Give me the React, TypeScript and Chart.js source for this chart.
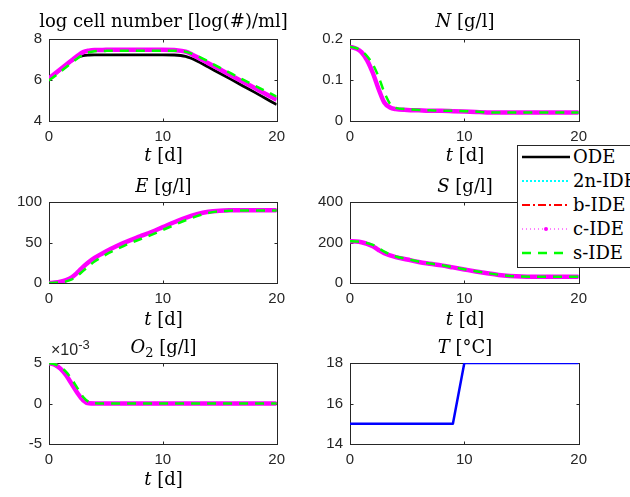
import React, { useEffect, useRef } from 'react';
import { Chart, registerables } from 'chart.js';
Chart.register(...registerables);

// ---------- data ----------
const DAYS = [0, 0.5, 1, 1.5, 2, 2.5, 3, 3.5, 4, 5, 6, 7, 8, 9, 10, 11, 12, 13, 14, 15, 16, 17, 18, 19, 20];
const SERIES_NAMES = ['ODE', '2n-IDE', 'b-IDE', 'c-IDE', 's-IDE'];

const CELL_ODE = [6.05, 6.27, 6.5, 6.72, 6.93, 7.1, 7.19, 7.22, 7.23, 7.23, 7.23, 7.23, 7.23, 7.23, 7.23, 7.22, 7.15, 6.93, 6.63, 6.33, 6.03, 5.72, 5.42, 5.11, 4.8];
const CELL_C = [6.08, 6.3, 6.52, 6.74, 6.96, 7.18, 7.36, 7.43, 7.46, 7.47, 7.48, 7.48, 7.48, 7.48, 7.48, 7.46, 7.38, 7.12, 6.82, 6.52, 6.22, 5.92, 5.63, 5.33, 5.04];
const CELL_2N = CELL_C;
const CELL_B = CELL_C;
const CELL_S = [5.98, 6.18, 6.4, 6.62, 6.84, 7.05, 7.24, 7.35, 7.4, 7.42, 7.43, 7.43, 7.43, 7.43, 7.43, 7.43, 7.38, 7.18, 6.9, 6.6, 6.32, 6.03, 5.75, 5.47, 5.19];

const N_C = [0.181, 0.177, 0.168, 0.148, 0.117, 0.078, 0.045, 0.033, 0.029, 0.027, 0.026, 0.025, 0.025, 0.024, 0.023, 0.022, 0.021, 0.0205, 0.0205, 0.0205, 0.0205, 0.0205, 0.0205, 0.0205, 0.0205];
const N_ODE = N_C;
const N_2N = N_C;
const N_B = N_C;
const N_S = [0.181, 0.178, 0.171, 0.158, 0.138, 0.108, 0.07, 0.042, 0.032, 0.029, 0.027, 0.026, 0.025, 0.025, 0.024, 0.023, 0.021, 0.0205, 0.0205, 0.0205, 0.0205, 0.0205, 0.0205, 0.0205, 0.0205];

const E_C = [0, 0.5, 1.5, 3.5, 7, 13, 20, 26, 31, 39, 46, 52, 57.5, 63, 69, 75, 80.5, 85, 88, 89.3, 89.7, 89.8, 89.8, 89.8, 89.8];
const E_ODE = E_C;
const E_2N = E_C;
const E_B = E_C;
const E_S = [0, 0.2, 0.8, 2, 4.5, 9, 15, 21, 26.5, 35, 42, 48.5, 54, 59.5, 65.5, 71.5, 77.5, 82.5, 86.5, 88.5, 89.3, 89.6, 89.6, 89.6, 89.6];

const S_C = [206, 205, 201, 193, 181, 163, 147, 136, 128, 116, 104, 95, 87, 77, 67, 57, 48, 40, 35, 32, 31, 31, 31, 31, 31];
const S_ODE = S_C;
const S_2N = S_C;
const S_B = S_C;
const S_S = [206, 205, 203, 197, 188, 172, 155, 141, 131, 118, 106, 96, 88, 78, 68, 58, 49, 41, 35, 32, 31, 31, 31, 31, 31];

const O2_C = [0.00497, 0.0048, 0.0043, 0.0035, 0.0024, 0.0013, 0.0004, 0.00002, 0, 0, 0, 0, 0, 0, 0, 0, 0, 0, 0, 0, 0, 0, 0, 0, 0];
const O2_ODE = O2_C;
const O2_2N = O2_C;
const O2_B = O2_C;
const O2_S = [0.00497, 0.00485, 0.0045, 0.0039, 0.003, 0.0019, 0.0008, 0.0002, 0.00003, 0, 0, 0, 0, 0, 0, 0, 0, 0, 0, 0, 0, 0, 0, 0, 0];

const TEMP_DAYS = [0, 9, 10, 20];
const TEMP = [15, 15, 18, 18];

const X_TICKS = [0, 10, 20];

// ---------- styles ----------
const STYLE: Record<string, { color: string; width: number; dash: number[]; order: number }> = {
  'ODE': { color: '#000000', width: 2.8, dash: [], order: 5 },
  '2n-IDE': { color: '#00FFFF', width: 2, dash: [2, 2], order: 4 },
  'b-IDE': { color: '#FF0000', width: 2, dash: [8, 3, 2, 3], order: 3 },
  'c-IDE': { color: '#FF00FF', width: 4.5, dash: [], order: 2 },
  's-IDE': { color: '#00FF00', width: 2.5, dash: [9, 7], order: 1 },
};

const AXIS_COLOR = '#262626';
const SANS = '"Liberation Sans", Arial, sans-serif';
const SERIF = '"DejaVu Serif", serif';

const PAD_L = 45, PAD_T = 12, PAD_R = 14, PAD_B = 30;

type PanelDef = {
  left: number; top: number; w: number; h: number;
  xs: number[];
  series: { name: string; values: number[]; color?: string; width?: number }[];
  yMin: number; yMax: number; yStep: number;
  fmt?: (v: number) => string;
};

const PANELS: PanelDef[] = [
  { left: 49, top: 35, w: 229, h: 86, xs: DAYS, yMin: 4, yMax: 8, yStep: 2,
    series: [{ name: 'ODE', values: CELL_ODE }, { name: '2n-IDE', values: CELL_2N }, { name: 'b-IDE', values: CELL_B }, { name: 'c-IDE', values: CELL_C }, { name: 's-IDE', values: CELL_S }] },
  { left: 350, top: 35, w: 230, h: 86, xs: DAYS, yMin: 0, yMax: 0.2, yStep: 0.1,
    fmt: (v) => (Math.round(v * 10) / 10).toString(),
    series: [{ name: 'ODE', values: N_ODE }, { name: '2n-IDE', values: N_2N }, { name: 'b-IDE', values: N_B }, { name: 'c-IDE', values: N_C }, { name: 's-IDE', values: N_S }] },
  { left: 49, top: 198, w: 229, h: 85, xs: DAYS, yMin: 0, yMax: 100, yStep: 50,
    series: [{ name: 'ODE', values: E_ODE }, { name: '2n-IDE', values: E_2N }, { name: 'b-IDE', values: E_B }, { name: 'c-IDE', values: E_C }, { name: 's-IDE', values: E_S }] },
  { left: 350, top: 198, w: 230, h: 85, xs: DAYS, yMin: 0, yMax: 400, yStep: 200,
    series: [{ name: 'ODE', values: S_ODE }, { name: '2n-IDE', values: S_2N }, { name: 'b-IDE', values: S_B }, { name: 'c-IDE', values: S_C }, { name: 's-IDE', values: S_S }] },
  { left: 49, top: 359, w: 229, h: 85, xs: DAYS, yMin: -0.005, yMax: 0.005, yStep: 0.005,
    fmt: (v) => Math.round(v * 1000).toString(),
    series: [{ name: 'ODE', values: O2_ODE }, { name: '2n-IDE', values: O2_2N }, { name: 'b-IDE', values: O2_B }, { name: 'c-IDE', values: O2_C }, { name: 's-IDE', values: O2_S }] },
  { left: 350, top: 359, w: 230, h: 85, xs: TEMP_DAYS, yMin: 14, yMax: 18, yStep: 2,
    series: [{ name: 'T', values: TEMP, color: '#0000FF', width: 2.5 }] },
];

const boxPlugin = {
  id: 'matlabBox',
  beforeDatasetsDraw(chart: any) {
    const { ctx, chartArea } = chart;
    const l = Math.round(chartArea.left) + 0.5;
    const t = Math.round(chartArea.top) + 0.5;
    const r = Math.round(chartArea.right) + 0.5;
    const b = Math.round(chartArea.bottom) + 0.5;
    ctx.save();
    ctx.strokeStyle = AXIS_COLOR;
    ctx.lineWidth = 1;
    ctx.setLineDash([]);
    ctx.strokeRect(l, t, r - l, b - t);
    const len = 3;
    ctx.beginPath();
    chart.scales.x.ticks.forEach((tk: any) => {
      const px = Math.round(chart.scales.x.getPixelForValue(tk.value)) + 0.5;
      ctx.moveTo(px, b); ctx.lineTo(px, b - len);
      ctx.moveTo(px, t); ctx.lineTo(px, t + len);
    });
    chart.scales.y.ticks.forEach((tk: any) => {
      const py = Math.round(chart.scales.y.getPixelForValue(tk.value)) + 0.5;
      ctx.moveTo(l, py); ctx.lineTo(l + len, py);
      ctx.moveTo(r, py); ctx.lineTo(r - len, py);
    });
    ctx.stroke();
    ctx.restore();
  },
};

function Panel({ def }: { def: PanelDef }) {
  const ref = useRef<HTMLCanvasElement>(null);
  const W = def.w + PAD_L + PAD_R;
  const H = def.h + PAD_T + PAD_B;
  useEffect(() => {
    if (!ref.current) return;
    const datasets = def.series.map((s) => {
      const st = STYLE[s.name];
      return {
        label: s.name,
        data: def.xs.map((x, i) => ({ x, y: s.values[i] })),
        borderColor: s.color || st.color,
        borderWidth: s.width || st.width,
        borderDash: st ? st.dash : [],
        order: st ? st.order : 1,
        pointRadius: 0,
        fill: false,
        cubicInterpolationMode: st ? 'monotone' : 'default',
        tension: 0,
        borderCapStyle: 'butt',
        borderJoinStyle: 'round',
      };
    });
    const chart = new Chart(ref.current, {
      type: 'line',
      data: { datasets: datasets as any },
      plugins: [boxPlugin],
      options: {
        animation: false,
        responsive: false,
        maintainAspectRatio: false,
        events: [],
        layout: { padding: { left: 0, top: PAD_T, right: PAD_R, bottom: 0 } },
        plugins: { legend: { display: false }, tooltip: { enabled: false }, title: { display: false } },
        scales: {
          x: {
            type: 'linear', min: 0, max: 20,
            afterBuildTicks: (scale: any) => { scale.ticks = X_TICKS.map((v) => ({ value: v })); },
            ticks: { color: AXIS_COLOR, font: { family: SANS, size: 15 }, padding: 7, maxRotation: 0, autoSkip: false },
            grid: { display: false, drawTicks: false },
            border: { display: false },
            afterFit: (scale: any) => { scale.height = PAD_B; },
          },
          y: {
            type: 'linear', min: def.yMin, max: def.yMax,
            ticks: {
              stepSize: def.yStep, color: AXIS_COLOR, font: { family: SANS, size: 15 }, padding: 7,
              callback: (v: any) => (def.fmt ? def.fmt(Number(v)) : String(v)),
            },
            grid: { display: false, drawTicks: false },
            border: { display: false },
            afterFit: (scale: any) => { scale.width = PAD_L; },
          },
        },
      } as any,
    });
    return () => chart.destroy();
  }, []);
  return (
    <canvas
      ref={ref}
      width={W}
      height={H}
      style={{ position: 'absolute', left: def.left - PAD_L, top: def.top - PAD_T, width: W, height: H }}
    />
  );
}

function Label({ x, baseline, children, color = '#000' }: { x: number; baseline: number; children: any; color?: string }) {
  return (
    <div
      style={{
        position: 'absolute', left: x, top: baseline - 15, transform: 'translateX(-50%)',
        fontFamily: SERIF, fontSize: 18, lineHeight: '18px', whiteSpace: 'nowrap', color,
      }}
    >
      {children}
    </div>
  );
}

const TLabel = () => (<span><i>t</i> [d]</span>);

function LegendSample({ name }: { name: string }) {
  const st = STYLE[name];
  const isC = name === 'c-IDE';
  return (
    <svg width={54} height={20} style={{ position: 'absolute', left: 0, top: 0 }}>
      <line x1={4} y1={10} x2={52} y2={10} stroke={st.color}
        strokeWidth={isC ? 1 : Math.min(st.width, 2.5)}
        strokeDasharray={isC ? '1 3' : st.dash.length ? st.dash.join(' ') : undefined} />
      {isC && <circle cx={28} cy={10} r={2} fill={st.color} />}
    </svg>
  );
}

function Legend() {
  const rowTop = [147, 171, 195, 219, 243];
  return (
    <div style={{ position: 'absolute', left: 517, top: 145, width: 140, height: 121, border: `1px solid ${AXIS_COLOR}`, background: '#fff', zIndex: 5 }}>
      {SERIES_NAMES.map((n, i) => (
        <div key={n} style={{ position: 'absolute', left: 0, top: rowTop[i] - 146, width: 140, height: 20 }}>
          <LegendSample name={n} />
          <div style={{ position: 'absolute', left: 55, top: 1, fontFamily: SERIF, fontSize: 18, lineHeight: '18px', whiteSpace: 'nowrap', color: '#000' }}>{n}</div>
        </div>
      ))}
    </div>
  );
}

export default function App() {
  return (
    <div style={{ position: 'absolute', left: 0, top: 0, width: 630, height: 497, overflow: 'hidden', background: '#fff' }}>
      {PANELS.map((p, i) => (<Panel key={i} def={p} />))}
      <Label x={163.5} baseline={27}>log cell number [log(#)/ml]</Label>
      <Label x={465} baseline={27}><i>N</i> [g/l]</Label>
      <Label x={163.5} baseline={192}><i>E</i> [g/l]</Label>
      <Label x={465} baseline={192}><i>S</i> [g/l]</Label>
      <Label x={163.5} baseline={353}><i>O</i><span style={{ fontSize: 13, position: 'relative', top: 4 }}>2</span> [g/l]</Label>
      <Label x={465} baseline={353}><i>T</i> [°C]</Label>
      <Label x={163.5} baseline={161}><TLabel /></Label>
      <Label x={465} baseline={161}><TLabel /></Label>
      <Label x={163.5} baseline={325}><TLabel /></Label>
      <Label x={465} baseline={325}><TLabel /></Label>
      <Label x={163.5} baseline={485}><TLabel /></Label>
      <div style={{ position: 'absolute', left: 51, top: 342, fontFamily: SANS, fontSize: 16, lineHeight: '16px', color: AXIS_COLOR, whiteSpace: 'nowrap' }}>
        ×10<span style={{ fontSize: 13, position: 'relative', top: -6 }}>-3</span>
      </div>
      <Legend />
    </div>
  );
}
